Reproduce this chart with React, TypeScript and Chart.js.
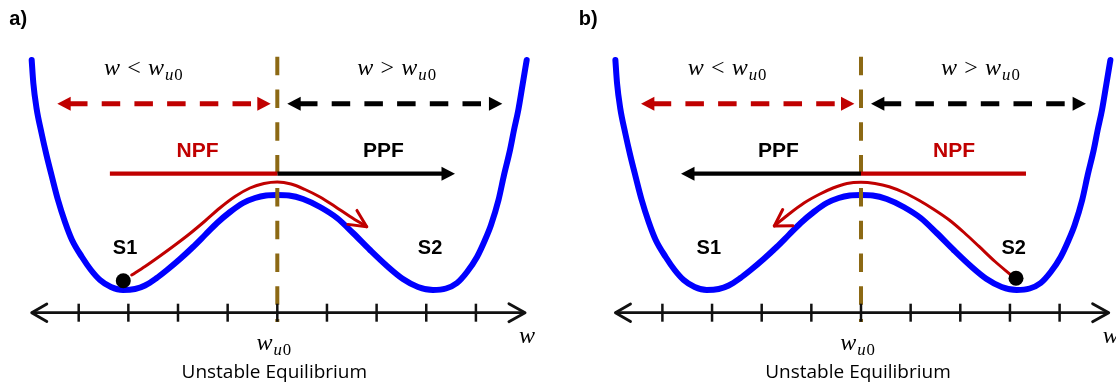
import React, { useEffect, useRef } from 'react';
import { Chart, registerables } from 'chart.js';

Chart.register(...registerables);

// ---------------- values ----------------
// x: position along w, in tick units, measured from w_u0 (x = 0)
// y: potential / height above the w axis (arbitrary units, axis at 0)
const tickValues = [-4, -3, -2, -1, 0, 1, 2, 3, 4];

// double-well potential (blue)
const wellX = [-4.947, -4.914, -4.85, -4.749, -4.649, -4.538, -4.417, -4.276, -4.135, -3.934, -3.753, -3.571, -3.35, -3.108, -2.866, -2.665, -2.443, -2.222, -1.96, -1.698, -1.456, -1.214, -0.952, -0.69, -0.449, -0.228, 0, 0.236, 0.518, 0.86, 1.202, 1.525, 1.867, 2.209, 2.531, 2.834, 3.136, 3.398, 3.619, 3.821, 4.022, 4.183, 4.304, 4.455, 4.566, 4.687, 4.767, 4.854, 4.939, 5.023];
const wellY = [25.27, 22.97, 20.47, 17.97, 15.77, 13.57, 11.27, 9.07, 7.27, 5.57, 4.27, 3.27, 2.57, 2.27, 2.37, 2.72, 3.42, 4.27, 5.37, 6.57, 7.77, 8.97, 10.07, 10.97, 11.47, 11.72, 11.77, 11.72, 11.37, 10.57, 9.47, 7.97, 6.27, 4.67, 3.37, 2.57, 2.27, 2.42, 2.97, 4.07, 5.57, 7.27, 8.77, 11.27, 13.77, 16.27, 18.27, 20.27, 22.77, 25.27];

// switching path (red) – panel a: S1 -> S2, panel b: S2 -> S1 (listed left to right)
const pathAX = [-2.933, -2.665, -2.363, -2.06, -1.758, -1.456, -1.157, -0.852, -0.55, -0.268, 0, 0.276, 0.558, 0.86, 1.162, 1.464, 1.801];
const pathAY = [3.77, 4.62, 5.67, 6.77, 7.92, 9.17, 10.47, 11.62, 12.47, 12.92, 13.07, 12.87, 12.32, 11.57, 10.62, 9.62, 8.6];
const pathBX = [-1.746, -1.45, -1.148, -0.846, -0.564, -0.282, 0, 0.282, 0.57, 0.866, 1.174, 1.47, 1.778, 2.075, 2.383, 2.699, 3.021];
const pathBY = [8.67, 9.87, 10.97, 11.82, 12.47, 12.92, 13.04, 12.92, 12.6, 12.02, 11.22, 10.32, 9.27, 8.02, 6.6, 5.12, 3.77];

// initial state marker
const stateDotA = [-3.102, 3.2];
const stateDotB = [3.122, 3.44];

// text
const panelLetters = ['a)', 'b)'];
const stateLabels = ['S1', 'S2'];
const forceLabels = ['NPF', 'PPF'];
const regionRelations = ['<', '>'];
const axisVariable = 'w';
const equilibriumSub = 'u0';
const equilibriumText = 'Unstable Equilibrium';

// ---------------- styles ----------------
const RED = '#C00000';
const BLUE = '#0000FF';
const BROWN = '#8C6914';
const INK = '#000000';
const AXIS = '#111111';
const SANS = '"Liberation Sans", Arial, sans-serif';
const SERIF = '"Liberation Serif", "DejaVu Serif", serif';
const CAPTION = '"Open Sans", Lato, sans-serif';

const Y_MIN = -7.23;
const Y_MAX = 31.27;
const HEIGHT = 385;

type Head = { x: number; y: number; angle: number; len: number; half?: number; spread?: number; filled: boolean; color: string; width?: number };

type PanelSpec = {
  letter: string;
  letterX: number;
  left: number;
  width: number;
  xMin: number;
  xMax: number;
  pathX: number[];
  pathY: number[];
  pathHead: Head;
  dot: number[];
  leftLine: { from: number; to: number; color: string };
  rightLine: { from: number; to: number; color: string };
  lineHead: Head;
  leftForce: { text: string; x: number; color: string };
  rightForce: { text: string; x: number; color: string };
};

const FORCE_Y = 13.9;
const DASH_Y = 20.9;

const panels: PanelSpec[] = [
  {
    letter: panelLetters[0],
    letterX: -5.398,
    left: 0,
    width: 570,
    xMin: -5.585,
    xMax: 5.895,
    pathX: pathAX,
    pathY: pathAY,
    pathHead: { x: pathAX[pathAX.length - 1], y: pathAY[pathAY.length - 1], angle: 33, len: 19, spread: 26, filled: false, color: RED, width: 3 },
    dot: stateDotA,
    leftLine: { from: -3.372, to: 0, color: RED },
    rightLine: { from: 0, to: 3.36, color: INK },
    lineHead: { x: 3.579, y: FORCE_Y, angle: 0, len: 13.5, half: 7, filled: true, color: INK },
    leftForce: { text: forceLabels[0], x: -1.607, color: RED },
    rightForce: { text: forceLabels[1], x: 2.135, color: INK },
  },
  {
    letter: panelLetters[1],
    letterX: -5.686,
    left: 570,
    width: 546,
    xMin: -5.861,
    xMax: 5.136,
    pathX: pathBX,
    pathY: pathBY,
    pathHead: { x: pathBX[0], y: pathBY[0], angle: 148, len: 18.5, spread: 31, filled: false, color: RED, width: 3 },
    dot: stateDotB,
    leftLine: { from: -3.4, to: 0, color: INK },
    rightLine: { from: 0, to: 3.323, color: RED },
    lineHead: { x: -3.625, y: FORCE_Y, angle: 180, len: 13.5, half: 7, filled: true, color: INK },
    leftForce: { text: forceLabels[1], x: -1.662, color: INK },
    rightForce: { text: forceLabels[0], x: 1.873, color: RED },
  },
];

const pts = (xs: number[], ys: number[]) => xs.map((x, i) => ({ x, y: ys[i] }));

function buildDatasets(p: PanelSpec): any[] {
  const line = (data: any[], color: string, width: number, extra: any = {}) => ({
    data,
    showLine: true,
    pointRadius: 0,
    borderColor: color,
    backgroundColor: color,
    borderWidth: width,
    fill: false,
    clip: false,
    ...extra,
  });
  return [
    {
      data: [{ x: p.dot[0], y: p.dot[1] }],
      showLine: false,
      pointStyle: 'circle',
      pointRadius: 7.5,
      pointBackgroundColor: INK,
      pointBorderColor: INK,
      pointBorderWidth: 0,
      clip: false,
      order: 0,
    },
    {
      data: tickValues.map((v) => ({ x: v, y: 0 })),
      showLine: false,
      pointStyle: 'line',
      pointRotation: 90,
      pointRadius: 9,
      pointBorderColor: AXIS,
      pointBorderWidth: 2.5,
      clip: false,
      order: 1,
    },
    line([{ x: -4.947, y: 0 }, { x: 4.99, y: 0 }], AXIS, 2.8, { order: 2 }),
    line([{ x: p.leftLine.from, y: FORCE_Y }, { x: p.leftLine.to, y: FORCE_Y }], p.leftLine.color, 4.2, { order: 3 }),
    line([{ x: p.rightLine.from, y: FORCE_Y }, { x: p.rightLine.to, y: FORCE_Y }], p.rightLine.color, 4.2, { order: 3 }),
    line([{ x: -4.195, y: DASH_Y }, { x: -0.383, y: DASH_Y }], RED, 5, { borderDash: [18.5, 14.2], order: 4 }),
    line([{ x: 0.437, y: DASH_Y }, { x: 4.25, y: DASH_Y }], INK, 5, { borderDash: [18.5, 14.2], order: 4 }),
    line([{ x: 0, y: 25.6 }, { x: 0, y: -0.93 }], BROWN, 4, { borderDash: [18.5, 14.3], order: 5 }),
    line(pts(p.pathX, p.pathY), RED, 3, { cubicInterpolationMode: 'monotone', borderCapStyle: 'round', order: 6 }),
    line(pts(wellX, wellY), BLUE, 6, { cubicInterpolationMode: 'monotone', borderCapStyle: 'round', borderJoinStyle: 'round', order: 7 }),
  ];
}

type MathPart = { t: string; it?: boolean; sub?: boolean; rel?: boolean };

function drawMath(ctx: CanvasRenderingContext2D, parts: MathPart[], cx: number, base: number, size: number) {
  const sub = size * 0.7;
  const relPad = size * 0.3;
  const font = (p: MathPart) => `${p.it ? 'italic ' : ''}${p.sub ? sub : size}px ${SERIF}`;
  const widths = parts.map((p) => {
    ctx.font = font(p);
    return ctx.measureText(p.t).width + (p.rel ? 2 * relPad : 0) + (p.sub ? 1 : 0);
  });
  const total = widths.reduce((a, b) => a + b, 0);
  let x = cx - total / 2;
  ctx.textAlign = 'left';
  ctx.textBaseline = 'alphabetic';
  parts.forEach((p, i) => {
    ctx.font = font(p);
    ctx.fillText(p.t, x + (p.rel ? relPad : 0) + (p.sub ? 1 : 0), base + (p.sub ? size * 0.22 : 0));
    x += widths[i];
  });
}

function drawHead(ctx: CanvasRenderingContext2D, tx: number, ty: number, h: Head) {
  const a = (h.angle * Math.PI) / 180;
  const back = a + Math.PI;
  ctx.save();
  if (h.filled) {
    const cx = tx + Math.cos(back) * h.len;
    const cy = ty + Math.sin(back) * h.len;
    const nx = -Math.sin(back);
    const ny = Math.cos(back);
    ctx.beginPath();
    ctx.moveTo(tx, ty);
    ctx.lineTo(cx + nx * (h.half || 7), cy + ny * (h.half || 7));
    ctx.lineTo(cx - nx * (h.half || 7), cy - ny * (h.half || 7));
    ctx.closePath();
    ctx.fillStyle = h.color;
    ctx.fill();
  } else {
    const s = ((h.spread || 30) * Math.PI) / 180;
    ctx.beginPath();
    ctx.moveTo(tx + Math.cos(back + s) * h.len, ty + Math.sin(back + s) * h.len);
    ctx.lineTo(tx, ty);
    ctx.lineTo(tx + Math.cos(back - s) * h.len, ty + Math.sin(back - s) * h.len);
    ctx.strokeStyle = h.color;
    ctx.lineWidth = h.width || 3;
    ctx.lineCap = 'round';
    ctx.lineJoin = 'round';
    ctx.stroke();
  }
  ctx.restore();
}

function makeOverlay(p: PanelSpec) {
  return {
    id: 'overlay',
    afterDatasetsDraw(chart: any) {
      const ctx: CanvasRenderingContext2D = chart.ctx;
      const X = (v: number) => chart.scales.x.getPixelForValue(v);
      const Y = (v: number) => chart.scales.y.getPixelForValue(v);
      ctx.save();

      const heads: Head[] = [
        { x: -4.431, y: DASH_Y, angle: 180, len: 13.4, half: 7, filled: true, color: RED },
        { x: -0.133, y: DASH_Y, angle: 0, len: 13.4, half: 7, filled: true, color: RED },
        { x: 0.201, y: DASH_Y, angle: 180, len: 13.4, half: 7, filled: true, color: INK },
        { x: 4.532, y: DASH_Y, angle: 0, len: 13.4, half: 7, filled: true, color: INK },
        { x: -4.947, y: 0, angle: 180, len: 17.5, spread: 30, filled: false, color: AXIS, width: 2.8 },
        { x: 4.99, y: 0, angle: 0, len: 18.5, spread: 29, filled: false, color: AXIS, width: 2.8 },
        p.lineHead,
        p.pathHead,
      ];
      heads.forEach((h) => drawHead(ctx, X(h.x), Y(h.y), h));

      ctx.textBaseline = 'alphabetic';
      // panel letter
      ctx.fillStyle = INK;
      ctx.font = `bold 20px ${SANS}`;
      ctx.textAlign = 'left';
      ctx.fillText(p.letter, X(p.letterX), Y(28.77));

      // region labels
      ctx.fillStyle = INK;
      regionRelations.forEach((rel, i) => {
        drawMath(
          ctx,
          [{ t: axisVariable, it: true }, { t: rel, rel: true }, { t: axisVariable, it: true }, { t: equilibriumSub[0], it: true, sub: true }, { t: equilibriumSub[1], sub: true }],
          X(i === 0 ? -2.697 : 2.405),
          Y(23.77),
          24
        );
      });

      // force labels
      ctx.font = `bold 21px ${SANS}`;
      ctx.textAlign = 'center';
      ctx.fillStyle = p.leftForce.color;
      ctx.fillText(p.leftForce.text, X(p.leftForce.x), Y(15.6));
      ctx.fillStyle = p.rightForce.color;
      ctx.fillText(p.rightForce.text, X(p.rightForce.x), Y(15.6));

      // state labels
      ctx.fillStyle = INK;
      ctx.font = `bold 20px ${SANS}`;
      ctx.fillText(stateLabels[0], X(-3.066), Y(5.87));
      ctx.fillText(stateLabels[1], X(3.076), Y(5.87));

      // axis variable
      drawMath(ctx, [{ t: axisVariable, it: true }], X(5.03), Y(-3.0), 24);
      // w_u0
      drawMath(ctx, [{ t: axisVariable, it: true }, { t: equilibriumSub[0], it: true, sub: true }, { t: equilibriumSub[1], sub: true }], X(-0.07), Y(-3.73), 24);

      // caption
      ctx.font = `19px ${CAPTION}`;
      ctx.textAlign = 'center';
      ctx.fillStyle = INK;
      ctx.fillText(equilibriumText, X(-0.06), Y(-6.53));

      ctx.restore();
    },
  };
}

function Panel({ spec }: { spec: PanelSpec }) {
  const ref = useRef<HTMLCanvasElement>(null);
  useEffect(() => {
    if (!ref.current) return;
    const chart = new Chart(ref.current, {
      type: 'scatter',
      data: { datasets: buildDatasets(spec) },
      options: {
        responsive: false,
        maintainAspectRatio: false,
        animation: false,
        events: [],
        layout: { padding: 0, autoPadding: false },
        plugins: { legend: { display: false }, tooltip: { enabled: false }, title: { display: false } },
        scales: {
          x: { type: 'linear', min: spec.xMin, max: spec.xMax, display: false },
          y: { type: 'linear', min: Y_MIN, max: Y_MAX, display: false },
        },
      } as any,
      plugins: [makeOverlay(spec)],
    } as any);
    return () => chart.destroy();
  }, [spec]);
  return (
    <canvas
      ref={ref}
      width={spec.width}
      height={HEIGHT}
      style={{ position: 'absolute', left: spec.left, top: 0, width: spec.width, height: HEIGHT }}
    />
  );
}

export default function App() {
  return (
    <div style={{ position: 'fixed', left: 0, top: 0, width: 1116, height: HEIGHT, background: '#ffffff', overflow: 'hidden' }}>
      {panels.map((p) => (
        <Panel key={p.letter} spec={p} />
      ))}
    </div>
  );
}
